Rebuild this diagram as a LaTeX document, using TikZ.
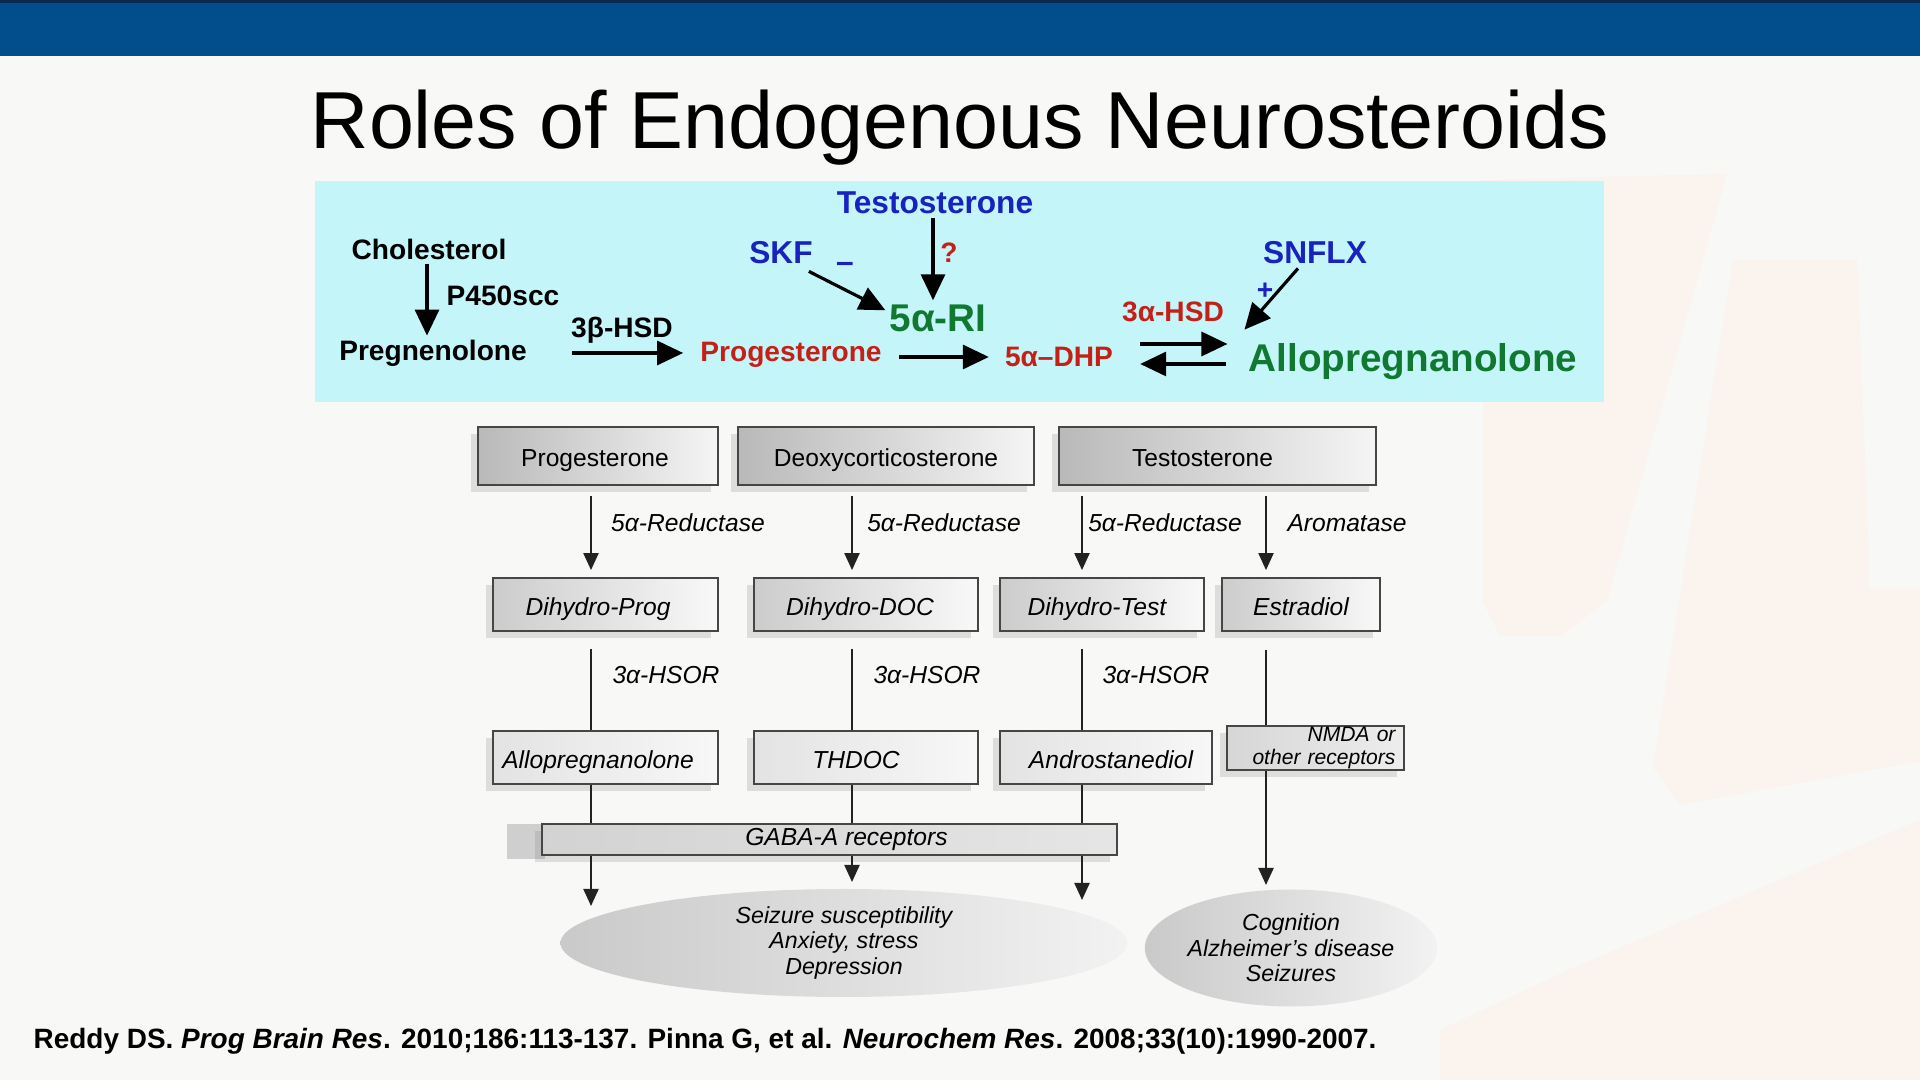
\documentclass[tikz,border=0pt]{standalone}
\usepackage{fontspec}
\setmainfont{Liberation Sans}
\usepackage{tikz}
\usetikzlibrary{positioning}
\usetikzlibrary{arrows.meta}
\usetikzlibrary{shapes.geometric}
\usetikzlibrary{shadows}

\definecolor{barblue}{RGB}{2,78,140}
\definecolor{barline}{RGB}{10,40,80}
\definecolor{slidebg}{RGB}{248,248,246}
\definecolor{peach}{RGB}{251,243,237}
\definecolor{boxcyan}{RGB}{196,246,249}
\definecolor{drugblue}{RGB}{24,34,190}
\definecolor{steroidred}{RGB}{196,32,24}
\definecolor{enzgreen}{RGB}{16,120,48}
\definecolor{boxline}{RGB}{70,70,70}
\definecolor{arrowgray}{RGB}{34,34,34}

\begin{document}
\begin{tikzpicture}[
    topbold/.style={inner sep=1pt, font=\bfseries\fontsize{8}{9.6}\selectfont},
    drug/.style={topbold, text=drugblue, font=\bfseries\fontsize{9}{10.8}\selectfont},
    bigname/.style={topbold, text=enzgreen, font=\bfseries\fontsize{11}{13.2}\selectfont},
    bigarrow/.style={-{Triangle[length=0.26cm,width=0.24cm]}, line width=0.9pt},
    box/.style={draw=boxline, line width=0.5pt, inner sep=0pt, minimum height=0.53cm,
        font=\fontsize{7}{8.4}\selectfont,
        drop shadow={shadow xshift=-0.07cm, shadow yshift=-0.07cm, opacity=0.22, fill=gray}},
    ctext/.style={text height=0.6em, text depth=0pt},
    rowa/.style={box, ctext, minimum height=0.58cm, left color=gray!55, right color=gray!8},
    rowb/.style={box, ctext, font=\itshape\fontsize{7}{8.4}\selectfont, left color=gray!40, right color=gray!5},
    rowc/.style={box, ctext, font=\itshape\fontsize{7}{8.4}\selectfont, left color=gray!22, right color=gray!6},
    enz/.style={inner sep=0pt, font=\itshape\fontsize{7}{8.4}\selectfont},
    arr/.style={draw=arrowgray, line width=0.6pt, -{Triangle[length=0.17cm,width=0.15cm]}},
    link/.style={draw=arrowgray, line width=0.6pt},
    effect/.style={ellipse, inner sep=0pt, align=center, left color=gray!42, right color=gray!10,
        font=\itshape\fontsize{6.6}{7.2}\selectfont}
]
    \useasboundingbox (0,0) rectangle (19.2,10.8);
    \fill[slidebg] (0,0) rectangle (19.2,10.8);

    \fill[peach] (14.83,9.0) -- (17.27,9.06) -- (16.07,4.79) -- (15.60,4.44) -- (15.00,4.44) -- (14.83,4.79) -- cycle;
    \fill[peach] (17.33,8.20) -- (18.57,8.20) -- (18.70,4.91) -- (19.2,4.91) -- (19.2,3.19) -- (16.80,2.75) -- (16.53,3.13) -- cycle;
    \fill[peach] (15.73,1.12) -- (19.2,2.60) -- (19.2,0) -- (14.40,0) -- (14.40,0.50) -- cycle;

    \fill[barblue] (0,10.24) rectangle (19.2,10.8);
    \fill[barline] (0,10.77) rectangle (19.2,10.8);

    \node[anchor=base, inner sep=0pt, font=\fontsize{23}{27.6}\selectfont] (title) at (9.60,9.31) {Roles of Endogenous Neurosteroids};

    \fill[boxcyan] (3.15,6.78) rectangle (16.04,8.99);

    \node[topbold] (chol) at (4.29,8.31) {Cholesterol};
    \node[topbold] (p450) at (5.03,7.84) {P450scc};
    \node[topbold] (preg) at (4.33,7.27) {Pregnenolone};
    \node[topbold] (hsdb) at (6.22,7.50) {3β-HSD};
    \node[topbold, text=steroidred] (prog) at (7.91,7.25) {Progesterone};
    \node[drug] (testo) at (9.35,8.77) {Testosterone};
    \node[drug] (skf) at (7.81,8.27) {SKF};
    \node[drug] (minus) at (8.45,8.13) {–};
    \node[topbold, text=steroidred] (query) at (9.49,8.27) {?};
    \node[bigname] (rI) at (9.38,7.62) {5α-RI};
    \node[topbold, text=steroidred] (dhp) at (10.59,7.23) {5α–DHP};
    \node[topbold, text=steroidred] (hsda) at (11.73,7.68) {3α-HSD};
    \node[drug] (snflx) at (13.15,8.27) {SNFLX};
    \node[topbold, text=drugblue] (plus) at (12.65,7.89) {+};
    \node[bigname] (allo) at (14.13,7.18) {Allopregnanolone};

    \draw[bigarrow] ([xshift=-0.02cm]chol.south) -- ([xshift=-0.02cm]chol.south |- preg.north);
    \draw[bigarrow, shorten <=0.41cm, shorten >=0.13cm] (preg.east) -- (preg.east -| prog.west);
    \draw[bigarrow] ([xshift=-0.08cm,yshift=-0.03cm]skf.south east) -- ([yshift=-0.1cm]rI.north west);
    \draw[bigarrow] ([xshift=-0.02cm]testo.south) -- ([xshift=-0.02cm]testo.south |- rI.north);
    \draw[bigarrow, shorten <=0.13cm, shorten >=0.12cm] ([yshift=-0.02cm]prog.east) -- ([yshift=-0.02cm]prog.east -| dhp.west);
    \draw[bigarrow, shorten <=0.23cm, shorten >=0.17cm] ([yshift=0.13cm]dhp.east) -- ([yshift=0.13cm]dhp.east -| allo.west);
    \draw[bigarrow, shorten <=0.18cm, shorten >=0.23cm] ([yshift=-0.07cm]dhp.east -| allo.west) -- ([yshift=-0.07cm]dhp.east);
    \draw[bigarrow] ([xshift=-0.17cm]snflx.south) -- ([yshift=0.1cm]allo.north west);

    \node[rowa, minimum width=2.40cm] (pprog) at (5.98,6.24) {Progesterone\hspace*{0.06cm}};
    \node[rowa, minimum width=2.96cm] (pdoc) at (8.86,6.24) {Deoxycorticosterone};
    \node[rowa, minimum width=3.17cm] (ptest) at (12.175,6.24) {Testosterone\hspace*{0.3cm}};

    \node[rowb, minimum width=2.25cm] (dprog) at (6.055,4.755) {Dihydro-Prog\hspace*{0.15cm}};
    \node[rowb, minimum width=2.24cm] (ddoc) at (8.66,4.755) {Dihydro-DOC\hspace*{0.12cm}};
    \node[rowb, minimum width=2.04cm] (dtest) at (11.02,4.755) {Dihydro-Test\hspace*{0.1cm}};
    \node[rowb, minimum width=1.58cm] (estr) at (13.01,4.755) {Estradiol};

    \node[rowc, minimum width=2.25cm] (allob) at (6.055,3.225) {Allopregnanolone\hspace*{0.15cm}};
    \node[rowc, minimum width=2.24cm] (thdoc) at (8.66,3.225) {THDOC\hspace*{0.2cm}};
    \node[rowc, minimum width=2.12cm] (andro) at (11.06,3.225) {\hspace*{0.1cm}Androstanediol};
    \node[box, minimum width=1.77cm, minimum height=0.44cm, text width=1.6cm, align=right,
        left color=gray!32, right color=gray!14,
        font=\itshape\fontsize{6}{6.5}\selectfont] (nmda) at (13.155,3.32) {NMDA or\\other receptors};

    \fill[gray!38] (5.07,2.21) rectangle (5.45,2.56);
    \node[box, minimum width=5.75cm, minimum height=0.31cm, left color=gray!35, right color=gray!20,
        font=\itshape\fontsize{7}{8.4}\selectfont] (gaba) at (8.295,2.405) {\hspace*{0.34cm}GABA-A receptors};

    \node[effect, minimum width=5.67cm, minimum height=1.08cm] (effa) at (8.44,1.37) {Seizure susceptibility\\Anxiety, stress\\Depression};
    \node[effect, minimum width=2.88cm, minimum height=1.17cm] (effb) at (12.91,1.32) {Cognition\\Alzheimer's disease\\Seizures};

    \coordinate (cola) at (5.91,0);
    \coordinate (colb) at (8.52,0);
    \coordinate (colc) at (10.82,0);
    \coordinate (cold) at (12.66,0);
    \coordinate (tipa) at (5.91,1.74);
    \coordinate (tipb) at (8.52,1.98);
    \coordinate (tipc) at (10.82,1.80);
    \coordinate (tipd) at (12.66,1.95);

    \draw[arr, shorten <=0.1cm, shorten >=0.07cm] (pprog.south -| cola) -- (dprog.north -| cola);
    \draw[arr, shorten <=0.1cm, shorten >=0.07cm] (pdoc.south -| colb) -- (ddoc.north -| colb);
    \draw[arr, shorten <=0.1cm, shorten >=0.07cm] (ptest.south -| colc) -- (dtest.north -| colc);
    \draw[arr, shorten <=0.1cm, shorten >=0.07cm] (ptest.south -| cold) -- (estr.north -| cold);

    \node[enz] (reda) at (6.88,5.57) {5α-Reductase};
    \node[enz] (redb) at (9.44,5.57) {5α-Reductase};
    \node[enz] (redc) at (11.65,5.57) {5α-Reductase};
    \node[enz] (arom) at (13.47,5.57) {Aromatase};

    \draw[link, shorten <=0.17cm] (dprog.south -| cola) -- (allob.north -| cola);
    \draw[link, shorten <=0.17cm] (ddoc.south -| colb) -- (thdoc.north -| colb);
    \draw[link, shorten <=0.17cm] (dtest.south -| colc) -- (andro.north -| colc);
    \draw[link, shorten <=0.18cm] (estr.south -| cold) -- (nmda.north -| cold);

    \node[enz] (hsora) at (6.66,4.05) {3α-HSOR};
    \node[enz] (hsorb) at (9.27,4.05) {3α-HSOR};
    \node[enz] (hsorc) at (11.56,4.05) {3α-HSOR};

    \draw[link] (allob.south -| cola) -- (gaba.north -| cola);
    \draw[link] (thdoc.south -| colb) -- (gaba.north -| colb);
    \draw[link] (andro.south -| colc) -- (gaba.north -| colc);

    \draw[arr] (gaba.south -| cola) -- (tipa);
    \draw[arr] (gaba.south -| colb) -- (tipb);
    \draw[arr] (gaba.south -| colc) -- (tipc);
    \draw[arr] (nmda.south -| cold) -- (tipd);

    \node[anchor=base west, inner sep=0pt, font=\bfseries\fontsize{7.95}{9.6}\selectfont] (cite) at (0.33,0.31)
        {Reddy DS. \textit{Prog Brain Res}. 2010;186:113-137. Pinna G, et al. \textit{Neurochem Res}. 2008;33(10):1990-2007.};
\end{tikzpicture}
\end{document}
